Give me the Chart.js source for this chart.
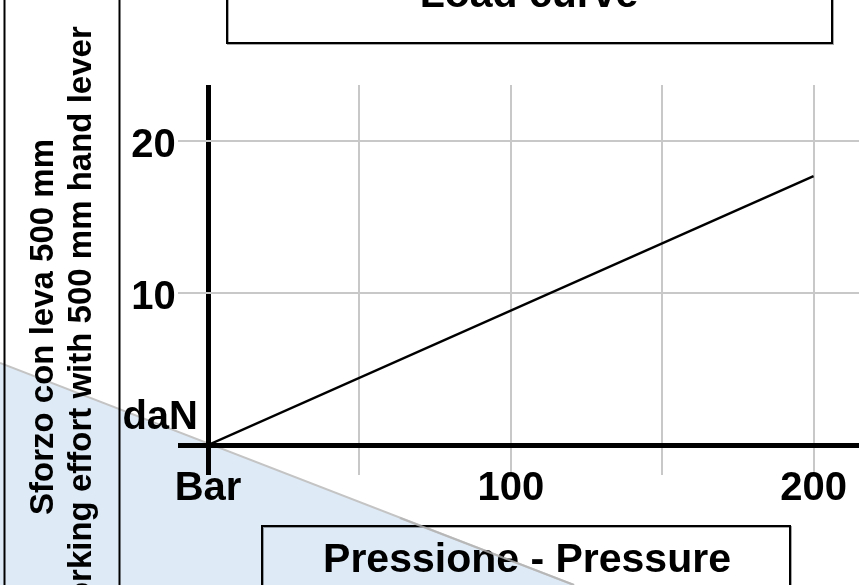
<!DOCTYPE html>
<html>
<head>
<meta charset="utf-8">
<script src="https://cdn.jsdelivr.net/npm/chart.js@4"></script>
<style>
  html, body { margin: 0; padding: 0; background: #fff; }
  #wrap { width: 859px; height: 585px; }
</style>
</head>
<body>
<div id="wrap"><canvas id="chart" width="859" height="585"></canvas></div>
<script>
'use strict';

// values
var pressure = [0, 200];          // Bar
var effort = [0, 17.7];           // daN
// trailing spaces keep 10/20 left of the "daN" label, as in the drawing
var xTickLabels = {0: 'Bar', 100: '100', 200: '200'};
var yTickLabels = {0: ['daN', ''], 10: '10  ', 20: '20  '};

var titleText = 'Load curve';
var xTitle = 'Pressione - Pressure';
var yTitle = ['Sforzo con leva 500 mm', 'working effort with 500 mm hand lever'];

var FONT = '"Liberation Sans", Arial, Helvetica, sans-serif';

function gridColor(ctx) {
  return ctx.tick && ctx.tick.value === 0 ? '#000' : '#c8c8c8';
}
function gridWidth(ctx) {
  return ctx.tick && ctx.tick.value === 0 ? 5 : 2;
}

var decorations = {
  id: 'decorations',
  beforeDraw: function(chart) {
    var ctx = chart.ctx;
    ctx.save();
    ctx.fillStyle = '#fff';
    ctx.fillRect(0, 0, chart.width, chart.height);

    // light blue corner
    ctx.beginPath();
    ctx.moveTo(0, 363);
    ctx.lineTo(574, 585);
    ctx.lineTo(0, 585);
    ctx.closePath();
    ctx.fillStyle = '#deebf7';
    ctx.fill();
    ctx.beginPath();
    ctx.moveTo(0, 363);
    ctx.lineTo(574, 585);
    ctx.strokeStyle = '#c4c4c4';
    ctx.lineWidth = 2;
    ctx.stroke();

    // left panel
    ctx.strokeStyle = '#000';
    ctx.lineWidth = 2;
    ctx.beginPath();
    ctx.moveTo(4.5, 0); ctx.lineTo(4.5, 585);
    ctx.moveTo(119.5, 0); ctx.lineTo(119.5, 585);
    ctx.stroke();

    ctx.fillStyle = '#000';
    ctx.font = 'bold 33px ' + FONT;
    ctx.textAlign = 'center';
    ctx.textBaseline = 'alphabetic';
    yTitle.forEach(function(line, i) {
      ctx.save();
      ctx.translate(53 + i * 38, 327);
      ctx.rotate(-Math.PI / 2);
      ctx.fillText(line, 0, 0);
      ctx.restore();
    });
    ctx.restore();
  },
  afterDraw: function(chart) {
    var ctx = chart.ctx;
    ctx.save();
    ctx.lineWidth = 2;
    ctx.strokeStyle = '#000';
    ctx.shadowColor = 'rgba(0,0,0,0.35)';
    ctx.shadowOffsetX = 1;
    ctx.shadowOffsetY = 1;
    ctx.strokeRect(227, -10, 605, 53);
    ctx.strokeRect(262, 526, 528, 70);
    ctx.shadowColor = 'transparent';

    ctx.fillStyle = '#000';
    ctx.font = 'bold 41px ' + FONT;
    ctx.textAlign = 'center';
    ctx.textBaseline = 'alphabetic';
    ctx.fillText(titleText, 529, 7);
    ctx.fillText(xTitle, 527, 572);

    // the corner's edge runs over the axis title box
    ctx.beginPath();
    ctx.moveTo(400, 518);
    ctx.lineTo(574, 585);
    ctx.strokeStyle = 'rgba(180,180,180,0.8)';
    ctx.lineWidth = 2;
    ctx.stroke();
    ctx.restore();
  }
};

new Chart(document.getElementById('chart'), {
  type: 'line',
  data: {
    datasets: [{
      data: pressure.map(function(p, i) { return {x: p, y: effort[i]}; }),
      borderColor: '#000',
      borderWidth: 2.5,
      pointRadius: 0,
      fill: false
    }]
  },
  options: {
    responsive: false,
    animation: false,
    layout: {padding: {top: 85, left: 0, right: 0, bottom: 0}},
    plugins: {legend: {display: false}, tooltip: {enabled: false}},
    scales: {
      x: {
        type: 'linear',
        min: 0,
        max: 215,
        border: {display: false},
        grid: {color: gridColor, lineWidth: gridWidth, tickLength: 30, tickColor: gridColor, tickWidth: gridWidth},
        ticks: {
          stepSize: 50,
          includeBounds: false,
          maxRotation: 0,
          autoSkip: false,
          padding: -10,
          color: '#000',
          font: {family: FONT, size: 40, weight: 'bold'},
          callback: function(v) { return xTickLabels[v] || ''; }
        },
        afterFit: function(scale) { scale.height = 140; }
      },
      y: {
        min: 0,
        max: 23.7,
        border: {display: false},
        grid: {color: gridColor, lineWidth: gridWidth, tickLength: 30, tickColor: gridColor, tickWidth: gridWidth},
        ticks: {
          stepSize: 10,
          includeBounds: false,
          padding: -20,
          labelOffset: 5,
          color: '#000',
          font: {family: FONT, size: 40, weight: 'bold', lineHeight: 1.6},
          callback: function(v) { return yTickLabels[v] || ''; }
        },
        afterFit: function(scale) { scale.width = 208; }
      }
    }
  },
  plugins: [decorations]
});
</script>
</body>
</html>
